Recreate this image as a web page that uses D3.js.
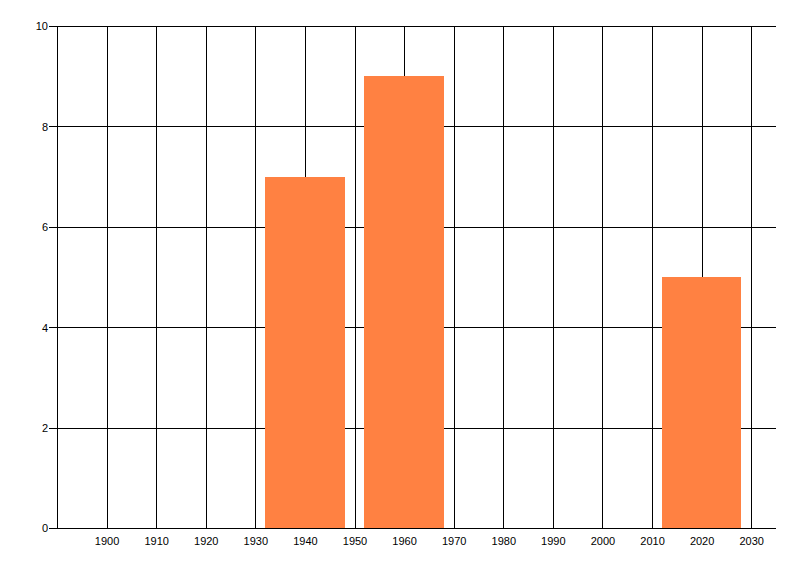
<!DOCTYPE html>
<html>
<head>
<meta charset="utf-8">
<script src="https://cdn.jsdelivr.net/npm/d3@7"></script>
<style>
  body { margin: 0; background: #fff; }
  svg text { font-family: "Liberation Sans", Arial, sans-serif; font-size: 11px; fill: #000; }
  svg line, svg rect { shape-rendering: crispEdges; }
</style>
</head>
<body>
<svg width="800" height="576"></svg>
<script>
var years = [1940, 1960, 2020];
var values = [7, 9, 5];
var xTicks = [1900, 1910, 1920, 1930, 1940, 1950, 1960, 1970, 1980, 1990, 2000, 2010, 2020, 2030];
var yTicks = [0, 2, 4, 6, 8, 10];

var svg = d3.select("svg");
var margin = {top: 26, right: 24, bottom: 48, left: 57},
    width = +svg.attr("width") - margin.left - margin.right,
    height = +svg.attr("height") - margin.top - margin.bottom;

var x = d3.scaleLinear().domain([1890, 2035]).range([0, width]);
var y = d3.scaleLinear().domain([0, 10]).range([height, 0]);

function px(v) { return Math.round(v) + 0.5; }

var g = svg.append("g")
    .attr("transform", "translate(" + margin.left + "," + margin.top + ")");

// vertical grid
g.selectAll(".vgrid")
    .data(xTicks)
  .enter().append("line")
    .attr("x1", function(d) { return px(x(d)); })
    .attr("x2", function(d) { return px(x(d)); })
    .attr("y1", 0)
    .attr("y2", px(height))
    .attr("stroke", "#000");

// horizontal grid + ticks
g.selectAll(".hgrid")
    .data(yTicks)
  .enter().append("line")
    .attr("x1", -8)
    .attr("x2", width)
    .attr("y1", function(d) { return px(y(d)); })
    .attr("y2", function(d) { return px(y(d)); })
    .attr("stroke", "#000");

// bars
var halfW = 8;
g.selectAll(".bar")
    .data(years)
  .enter().append("rect")
    .attr("class", "bar")
    .attr("x", function(d) { return Math.round(x(d - halfW)); })
    .attr("width", function(d) { return Math.round(x(d + halfW)) - Math.round(x(d - halfW)); })
    .attr("y", function(d, i) { return Math.round(y(values[i])); })
    .attr("height", function(d, i) { return Math.round(height) - Math.round(y(values[i])); })
    .attr("fill", "#ff8142");

// axes lines
g.append("line")
    .attr("x1", 0.5).attr("x2", 0.5).attr("y1", 0).attr("y2", px(height))
    .attr("stroke", "#000");
g.append("line")
    .attr("x1", -8).attr("x2", width).attr("y1", px(height)).attr("y2", px(height))
    .attr("stroke", "#000");

// labels
g.selectAll(".xlab")
    .data(xTicks)
  .enter().append("text")
    .attr("x", function(d) { return x(d) + 0.5; })
    .attr("y", height + 17)
    .attr("text-anchor", "middle")
    .text(function(d) { return d; });

g.selectAll(".ylab")
    .data(yTicks)
  .enter().append("text")
    .attr("x", -9)
    .attr("y", function(d) { return y(d) + 0.5; })
    .attr("dy", "0.35em")
    .attr("text-anchor", "end")
    .text(function(d) { return d; });
</script>
</body>
</html>
